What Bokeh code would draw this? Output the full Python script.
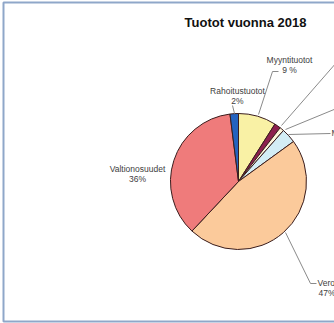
import numpy as np
from bokeh.plotting import figure
from bokeh.models import Range1d
from bokeh.embed import file_html
from bokeh.resources import INLINE
from bokeh.core.properties import value

# Income split for 2018, clockwise from twelve o'clock
categories = ["Myyntituotot", "Maksutuotot", "Tuet ja avustukset",
              "Muut toimintatuotot", "Verotulot", "Valtionosuudet", "Rahoitustuotot"]
shares = [9, 1.5, 1, 3.5, 47, 36, 2]
share_labels = ["9 %", "1,5 %", "1 %", "3,5 %", "47%", "36%", "2%"]
colors = ["#f9f1a5", "#8c1f4e", "#fdf6dc", "#d3edf5", "#fbca9b", "#ef7b7b", "#2463c0"]

W, H = 334, 323
FONT = "Liberation Sans"


def Y(y):
    # layout written top-down in pixels; bokeh's y axis points up
    return H - y


p = figure(width=W, height=H, output_backend="svg", toolbar_location=None,
           x_range=Range1d(0, W), y_range=Range1d(0, H), min_border=0)
p.axis.visible = False
p.grid.visible = False
p.outline_line_color = None
p.background_fill_color = "white"
p.border_fill_color = "white"

# frame around the chart area
p.quad(left=3, right=W + 20, bottom=Y(321), top=Y(2), fill_color=None,
       line_color="#8fa7c9", line_width=2)

# pie
cx, cy, r = 238, 181, 68
frac = np.array(shares, dtype=float) / sum(shares)
ends = np.cumsum(frac)
starts = ends - frac
start_ang = np.pi / 2 - starts * 2 * np.pi
end_ang = np.pi / 2 - ends * 2 * np.pi
p.wedge(x=[cx] * len(shares), y=[Y(cy)] * len(shares), radius=r,
        radius_units="screen", start_angle=start_ang, end_angle=end_ang,
        direction="clock", fill_color=colors, line_color="#3a1d1d",
        line_width=1)

# leader lines
leaders = [
    ([278, 272, 258], [71, 71, 114]),
    ([281, 336], [125, 62]),
    ([285, 336], [129, 108]),
    ([288, 330], [134, 133]),
    ([285, 310, 316], [232, 283, 283]),
    ([232, 234], [105, 113]),
]
for xs, ys in leaders:
    p.line(xs, [Y(v) for v in ys], line_color="#8a8a8a", line_width=1)

# category labels (the ones placed past the right edge run off the chart)
label_pos = {
    "Myyntituotot": (289, 59, "center"),
    "Maksutuotot": (338, 60, "left"),
    "Tuet ja avustukset": (338, 104, "left"),
    "Muut toimintatuotot": (331, 132, "left"),
    "Verotulot": (317, 282, "left"),
    "Valtionosuudet": (137, 168, "center"),
    "Rahoitustuotot": (237, 90, "center"),
}


def put_text(x, y, txt, align):
    if x >= W:
        return
    p.text(x=[x], y=[Y(y)], text=[txt], text_font=value(FONT),
           text_font_size="8.5px", text_color="#404040", text_align=align,
           text_baseline="middle")


for name, lab in zip(categories, share_labels):
    x, y, align = label_pos[name]
    put_text(x, y, name, align)
    if name == "Muut toimintatuotot":
        continue
    put_text(x if align == "center" else x + 1, y + 10, lab, align)

# title
p.text(x=[245], y=[Y(22)], text=["Tuotot vuonna 2018"], text_font=value(FONT),
       text_font_size="13px", text_font_style="bold", text_color="#111111",
       text_align="center", text_baseline="middle")

open("out.html", "w").write(file_html(p, INLINE))
